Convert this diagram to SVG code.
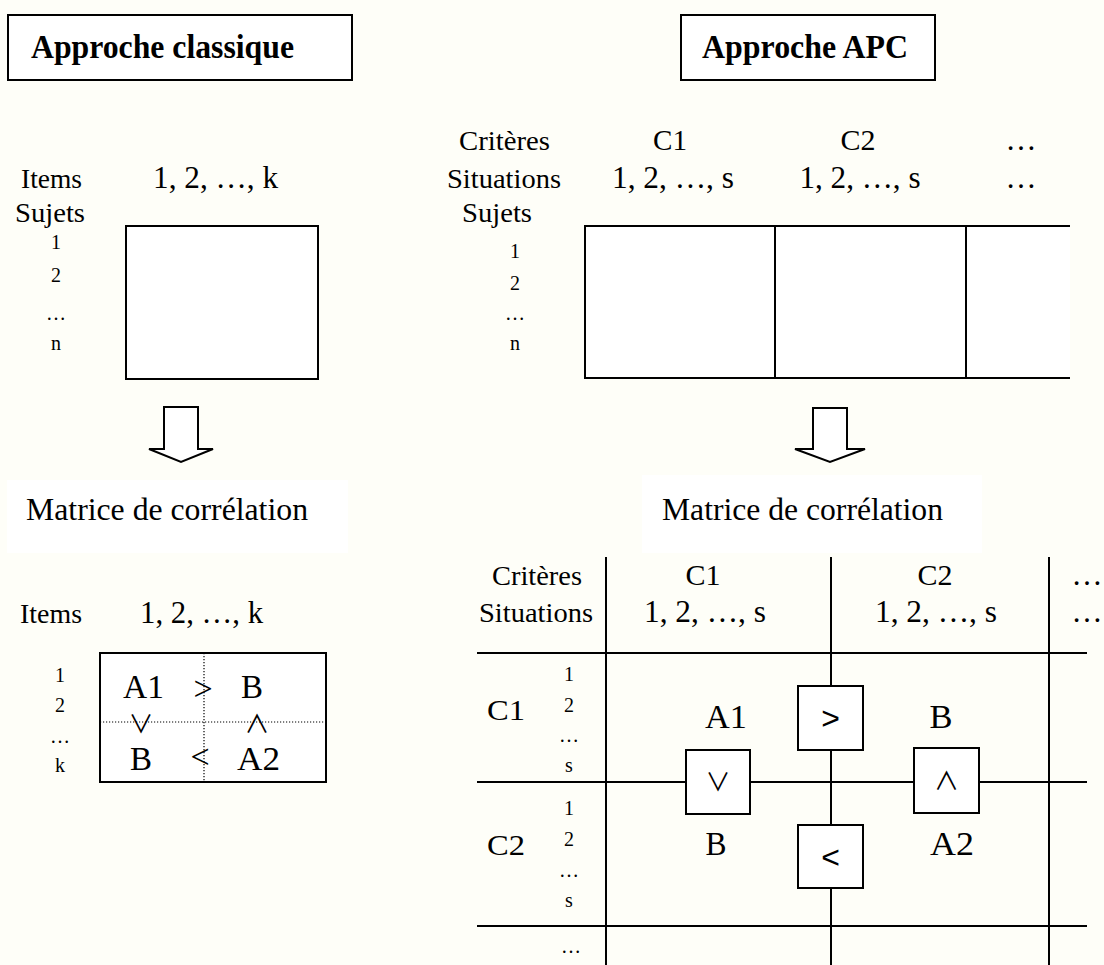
<svg xmlns="http://www.w3.org/2000/svg" width="1104" height="965" viewBox="0 0 1104 965">
<defs>
<style>
.t{font-family:"Liberation Serif","Times New Roman",serif;fill:#000;text-anchor:middle}
.b{font-weight:bold;font-size:33px}
.lab{font-size:28px}
.mat{font-size:32px}
.seq{font-size:31px}
.crit{font-size:30px}
.num{font-size:20px}
.big{font-size:33px}
.op{font-size:34px}
.sym{font-family:"Liberation Sans",Arial,sans-serif;font-size:32px;fill:#000;text-anchor:middle}
.sym2{font-family:"Noto Sans CJK JP","DejaVu Sans",sans-serif;font-weight:400;font-size:25px;fill:#000;text-anchor:middle}
.box{fill:#fff;stroke:#000;stroke-width:2}
.ln{stroke:#000;stroke-width:2;fill:none}
.dot{stroke:#000;stroke-width:1.2;stroke-dasharray:1.2 1.8;fill:none}
.bg{fill:#fff}
</style>
</defs>
<rect x="0" y="0" width="1104" height="965" fill="#fefef8"/>

<g id="title-classique">
<rect class="box" x="8" y="15" width="344" height="65"/>
<text class="t b" x="162.5" y="58" textLength="263" lengthAdjust="spacingAndGlyphs">Approche classique</text>
</g>
<g id="title-apc">
<rect class="box" x="681" y="15" width="254" height="65"/>
<text class="t b" x="805" y="58" textLength="206" lengthAdjust="spacingAndGlyphs">Approche APC</text>
</g>

<g id="classique-data">
<text class="t lab" x="51.5" y="188" textLength="61" lengthAdjust="spacingAndGlyphs">Items</text>
<text class="t seq" x="215.5" y="188" textLength="125" lengthAdjust="spacingAndGlyphs">1, 2, …, k</text>
<text class="t lab" x="50" y="222" textLength="70" lengthAdjust="spacingAndGlyphs">Sujets</text>
<text class="t num" x="56" y="249">1</text>
<text class="t num" x="56" y="282">2</text>
<text class="t num" x="56" y="320">…</text>
<text class="t num" x="56" y="350">n</text>
<rect class="box" x="126" y="226" width="192" height="153"/>
</g>

<g id="apc-data">
<text class="t lab" x="504.5" y="150" textLength="91" lengthAdjust="spacingAndGlyphs">Critères</text>
<text class="t crit" x="670" y="150" textLength="34" lengthAdjust="spacingAndGlyphs">C1</text>
<text class="t crit" x="858" y="150" textLength="35" lengthAdjust="spacingAndGlyphs">C2</text>
<text class="t seq" x="1021" y="150">…</text>
<text class="t lab" x="504" y="188" textLength="114" lengthAdjust="spacingAndGlyphs">Situations</text>
<text class="t seq" x="673" y="188" textLength="122" lengthAdjust="spacingAndGlyphs">1, 2, …, s</text>
<text class="t seq" x="860" y="188" textLength="121" lengthAdjust="spacingAndGlyphs">1, 2, …, s</text>
<text class="t seq" x="1021" y="188">…</text>
<text class="t lab" x="497" y="222" textLength="70" lengthAdjust="spacingAndGlyphs">Sujets</text>
<text class="t num" x="515" y="258">1</text>
<text class="t num" x="515" y="290">2</text>
<text class="t num" x="515" y="320">…</text>
<text class="t num" x="515" y="350">n</text>
<rect x="585" y="226" width="485" height="152" fill="#fff"/>
<path class="ln" d="M1070 226H585V378H1070M775 226V378M966 226V378"/>
</g>

<g id="connectors">
<path class="box" d="M164 407H198V449H213L181 462L149 449H164Z"/>
<path class="box" d="M813 408H847V449H865L830 462L795 449H813Z"/>
</g>

<g id="matrice-classique-label">
<rect class="bg" x="7" y="480" width="341" height="73"/>
<text class="t mat" x="167" y="520" textLength="282" lengthAdjust="spacingAndGlyphs">Matrice de corrélation</text>
</g>
<g id="matrice-apc-label">
<rect class="bg" x="642" y="475" width="340" height="78"/>
<text class="t mat" x="802.5" y="520" textLength="281" lengthAdjust="spacingAndGlyphs">Matrice de corrélation</text>
</g>

<g id="matrice-classique">
<text class="t lab" x="51" y="623" textLength="62" lengthAdjust="spacingAndGlyphs">Items</text>
<text class="t seq" x="201.5" y="623" textLength="123" lengthAdjust="spacingAndGlyphs">1, 2, …, k</text>
<text class="t num" x="60" y="682">1</text>
<text class="t num" x="60" y="712">2</text>
<text class="t num" x="60" y="743">…</text>
<text class="t num" x="60" y="772">k</text>
<rect class="box" x="100" y="653" width="226" height="129"/>
<path class="dot" d="M204 653V782M100 722H326"/>
<text class="t big" x="143.5" y="698" textLength="41" lengthAdjust="spacingAndGlyphs">A1</text>
<text class="t op" x="203" y="700">&gt;</text>
<text class="t big" x="252" y="698" textLength="22" lengthAdjust="spacingAndGlyphs">B</text>
<text class="sym2" x="141" y="733">∨</text>
<text class="sym2" x="257" y="733">∧</text>
<text class="t big" x="141" y="770" textLength="22" lengthAdjust="spacingAndGlyphs">B</text>
<text class="t op" x="200" y="768">&lt;</text>
<text class="t big" x="258.5" y="770" textLength="43" lengthAdjust="spacingAndGlyphs">A2</text>
</g>

<g id="matrice-apc">
<path class="ln" d="M606 557V965M831 557V965M1049 557V965M477 653H1087M477 782H1087M477 926H1087"/>
<text class="t lab" x="537" y="585" textLength="90" lengthAdjust="spacingAndGlyphs">Critères</text>
<text class="t lab" x="536" y="622" textLength="114" lengthAdjust="spacingAndGlyphs">Situations</text>
<text class="t crit" x="703" y="585" textLength="35" lengthAdjust="spacingAndGlyphs">C1</text>
<text class="t seq" x="705" y="622" textLength="122" lengthAdjust="spacingAndGlyphs">1, 2, …, s</text>
<text class="t crit" x="935" y="585" textLength="35" lengthAdjust="spacingAndGlyphs">C2</text>
<text class="t seq" x="936" y="622" textLength="122" lengthAdjust="spacingAndGlyphs">1, 2, …, s</text>
<text class="t seq" x="1087" y="585">…</text>
<text class="t seq" x="1087" y="622">…</text>
<text class="t crit" x="506" y="720" textLength="38" lengthAdjust="spacingAndGlyphs">C1</text>
<text class="t num" x="569" y="681">1</text>
<text class="t num" x="569" y="712">2</text>
<text class="t num" x="569" y="742">…</text>
<text class="t num" x="569" y="772">s</text>
<text class="t crit" x="506" y="855" textLength="38" lengthAdjust="spacingAndGlyphs">C2</text>
<text class="t num" x="569" y="815">1</text>
<text class="t num" x="569" y="846">2</text>
<text class="t num" x="569" y="877">…</text>
<text class="t num" x="569" y="907">s</text>
<text class="t num" x="571" y="953">…</text>
<text class="t big" x="726" y="728" textLength="42" lengthAdjust="spacingAndGlyphs">A1</text>
<text class="t big" x="941" y="728" textLength="23" lengthAdjust="spacingAndGlyphs">B</text>
<text class="t big" x="716" y="855" textLength="21" lengthAdjust="spacingAndGlyphs">B</text>
<text class="t big" x="952" y="855" textLength="44" lengthAdjust="spacingAndGlyphs">A2</text>
</g>
<g id="cmp-gt">
<rect class="box" x="798" y="686" width="65" height="64"/>
<text class="sym" x="830.5" y="729">&gt;</text>
</g>
<g id="cmp-or">
<rect class="box" x="686" y="750" width="64" height="64"/>
<text class="sym2" x="718" y="791">∨</text>
</g>
<g id="cmp-and">
<rect class="box" x="914" y="748" width="65" height="65"/>
<text class="sym2" x="946.5" y="790">∧</text>
</g>
<g id="cmp-lt">
<rect class="box" x="798" y="825" width="65" height="63"/>
<text class="sym" x="830.5" y="868">&lt;</text>
</g>
</svg>
